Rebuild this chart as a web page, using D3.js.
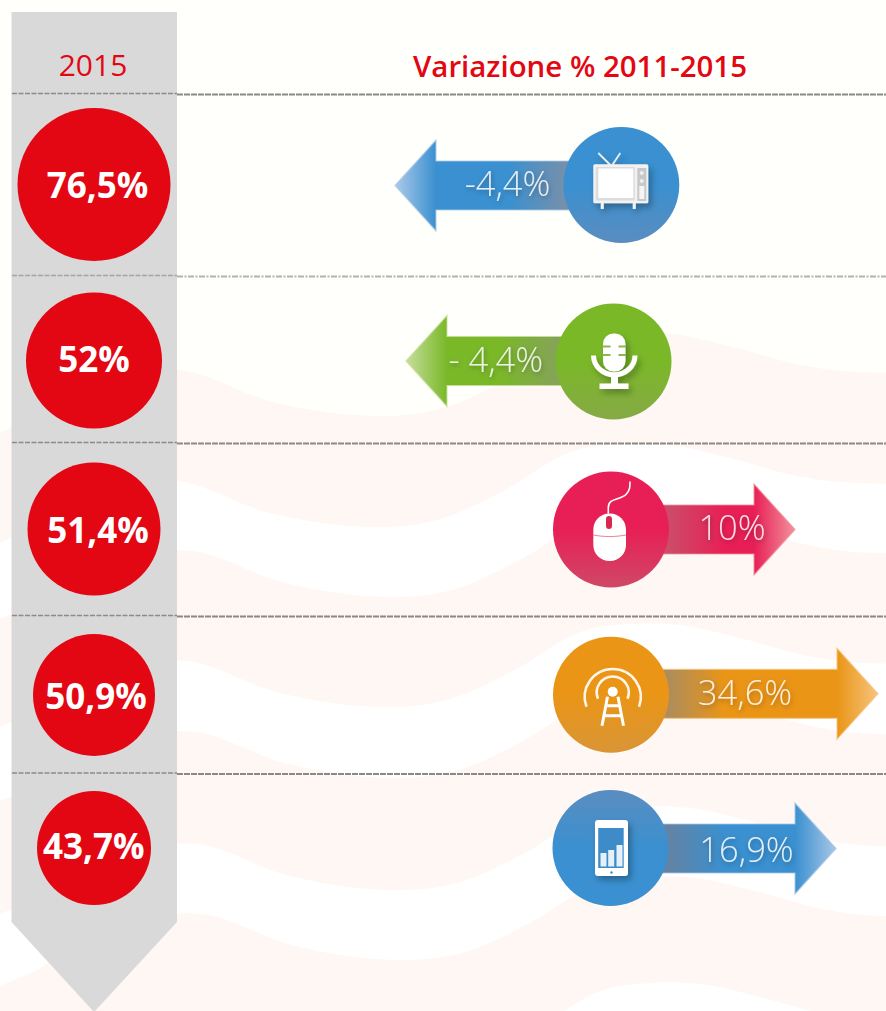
<!DOCTYPE html>
<meta charset="utf-8">
<title>Variazione % 2011-2015</title>
<style>
    html, body { margin: 0; padding: 0; background: #fff; }
    svg { display: block; }
    text { font-family: "Open Sans", sans-serif; }
</style>
<body>
<div id="my_chart"></div>
<script src="https://d3js.org/d3.v7.min.js"></script>
<script>
// data
var media = ["tv", "radio", "web", "wifi", "mobile"];
var share2015 = [76.5, 52, 51.4, 50.9, 43.7];
var change = [-4.4, -4.4, 10, 34.6, 16.9];
var changeLabels = ["-4,4%", "- 4,4%", "10%", "34,6%", "16,9%"];
var yearLabel = "2015";
var changeTitle = "Variazione % 2011-2015";

// layout of the rows
var width = 886, height = 1011;
var ruleY = [94, 276, 443, 616, 773.5];
var rowY = [184.5, 360.5, 529, 695, 848];
var iconX = [621.3, 613.5, 611, 611, 610.5];
var iconY = [185, 361.5, 529.5, 694.7, 848];
var arrowY = [185.5, 361, 529.5, 693.8, 848.5];
var arrowOrigin = [611, 622, 611, 611, 611];
var shareTextX = [97.5, 94, 98, 96, 93.8];
var shareTextDy = [13, 11, 14, 14, 11];
var changeTextX = [507.5, 495.8, 732, 745, 746.5];
var changeTextY = [196, 371.7, 540, 705, 861.7];
var palette = {
    tv: { main: "#3a90d0", tail: "#7a90a8", tip: "#adc9e8", low: "#5a8dc0", flip: false },
    radio: { main: "#7ab828", tail: "#86a25c", tip: "#c6de9c", low: "#86aa46", flip: false },
    web: { main: "#e81f56", tail: "#c9506a", tip: "#f2919c", low: "#cf4866", flip: false },
    wifi: { main: "#ea9516", tail: "#a88c62", tip: "#f6c47e", low: "#d99536", flip: false },
    mobile: { main: "#3a90d0", tail: "#68829f", tip: "#a8c6e6", low: "#5a8dc0", flip: true }
};

// scales: circle size and arrow reach
var rScale = d3.scaleLinear().domain([43.7, 50.9, 51.4, 52, 76.5]).range([57, 61, 66.5, 68, 76.5]);
var reach = d3.scaleLinear().domain([-4.4, 10, 16.9, 34.6]).range([-216, 184, 225, 267]);
var headLength = 41, headHalf = 45.5, shaftHalf = 24.5;

var svg = d3.select("#my_chart").append("svg")
    .attr("width", width)
    .attr("height", height);
var defs = svg.append("defs");

var shadow = defs.append("filter").attr("id", "textShadow")
    .attr("x", "-20%").attr("y", "-30%").attr("width", "140%").attr("height", "160%");
shadow.append("feDropShadow").attr("dx", 1).attr("dy", 2).attr("stdDeviation", 2.5)
    .attr("flood-color", "#000").attr("flood-opacity", 0.35);
var iconShadow = defs.append("filter").attr("id", "iconShadow")
    .attr("x", "-30%").attr("y", "-30%").attr("width", "170%").attr("height", "170%");
iconShadow.append("feDropShadow").attr("dx", 3).attr("dy", 4).attr("stdDeviation", 3)
    .attr("flood-color", "#000").attr("flood-opacity", 0.3);

// background waves: one edge, repeated with a drop and a sideways shift
var waveEdge = [[-60, 455], [12, 426], [45, 405], [100, 380], [177, 370], [270, 402], [370, 416], [437, 409],
    [503, 380], [570, 341], [620, 333], [670, 334], [730, 347], [793, 364], [840, 371], [930, 373]];
var waveBands = [[0, 3, 111, 0], [181, 15, 291, 10], [362, 18, 474, 20], [544, 25, 650, 30]];
var waveLine = d3.line().curve(d3.curveCatmullRom.alpha(0.5));
function edge(dy, dx) { return waveEdge.map(function (p) { return [p[0] + dx, p[1] + dy]; }); }

svg.append("path")
    .attr("d", "M-60,-5L930,-5" + waveLine(edge(0, 3).reverse()).replace("M", "L") + "Z")
    .attr("fill", "#fffffb");
svg.selectAll(".wave").data(waveBands).enter().append("path")
    .attr("class", "wave")
    .attr("fill", "#fef7f3")
    .attr("d", function (b) {
        return waveLine(edge(b[0], b[1])) + waveLine(edge(b[2], b[3]).reverse()).replace("M", "L") + "Z";
    });

// grey strip with its point
svg.append("path")
    .attr("d", d3.line()([[11.5, 12], [177, 12], [177, 922], [94, 1012], [11.5, 922]]) + "Z")
    .attr("fill", "#d9d9da");

// dashed rules
ruleY.forEach(function (y, i) {
    var light = i === 1;
    svg.append("line").attr("x1", 12).attr("x2", 177).attr("y1", y - 0.5).attr("y2", y - 0.5)
        .attr("stroke", light ? "#a5a5a3" : "#8c8b88").attr("stroke-width", 1.6)
        .attr("stroke-dasharray", "5 1.5");
    svg.append("line").attr("x1", 177).attr("x2", width).attr("y1", y + 0.5).attr("y2", y + 0.5)
        .attr("stroke", light ? "#b2b2ae" : "#8a8985").attr("stroke-width", 2)
        .attr("stroke-dasharray", light ? "6 1.5 2 1.5" : "6 1");
});

// headers
svg.append("text").attr("x", 93).attr("y", 76)
    .attr("text-anchor", "middle").attr("font-size", 30).attr("font-weight", 500).attr("fill", "#e30613")
    .text(yearLabel);
svg.append("text").attr("x", 580).attr("y", 76.5)
    .attr("text-anchor", "middle").attr("font-size", 28).attr("font-weight", 600).attr("fill", "#e30613")
    .attr("textLength", 334).attr("lengthAdjust", "spacingAndGlyphs")
    .text(changeTitle);

// red circles
svg.selectAll(".share").data(share2015).enter().append("circle")
    .attr("class", "share")
    .attr("cx", 94)
    .attr("cy", function (d, i) { return rowY[i]; })
    .attr("r", function (d) { return rScale(d); })
    .attr("fill", "#e30613");
svg.selectAll(".shareLabel").data(share2015).enter().append("text")
    .attr("class", "shareLabel")
    .attr("x", function (d, i) { return shareTextX[i]; })
    .attr("y", function (d, i) { return rowY[i] + shareTextDy[i]; })
    .attr("text-anchor", "middle")
    .attr("font-size", 35).attr("font-weight", 700).attr("fill", "#fff")
    .text(function (d) { return String(d).replace(".", ",") + "%"; });

// arrows
function arrowPath(d, i) {
    var dir = d < 0 ? -1 : 1;
    var tip = arrowOrigin[i] + reach(d);
    var base = tip - dir * headLength;
    var y = arrowY[i];
    var tail = iconX[i];
    return d3.line()([[tail, y - shaftHalf], [base, y - shaftHalf], [base, y - headHalf], [tip, y],
        [base, y + headHalf], [base, y + shaftHalf], [tail, y + shaftHalf]]) + "Z";
}
change.forEach(function (d, i) {
    var p = palette[media[i]];
    var dir = d < 0 ? -1 : 1;
    var tip = arrowOrigin[i] + reach(d);
    var base = tip - dir * headLength;
    var start = iconX[i] + dir * 52;
    var g = defs.append("linearGradient").attr("id", "arrow" + i)
        .attr("gradientUnits", "userSpaceOnUse")
        .attr("x1", start).attr("x2", tip).attr("y1", 0).attr("y2", 0);
    var span = tip - start;
    g.append("stop").attr("offset", 0).attr("stop-color", p.tail);
    g.append("stop").attr("offset", Math.min(0.55, 62 / Math.abs(span))).attr("stop-color", p.main);
    g.append("stop").attr("offset", (base - start) / span).attr("stop-color", p.main);
    g.append("stop").attr("offset", 1).attr("stop-color", p.tip);
    var c = defs.append("linearGradient").attr("id", "disc" + i)
        .attr("x1", 0).attr("x2", 0).attr("y1", 0).attr("y2", 1);
    if (p.flip) {
        c.append("stop").attr("offset", 0).attr("stop-color", p.low);
        c.append("stop").attr("offset", 0.5).attr("stop-color", p.main);
    } else {
        c.append("stop").attr("offset", 0.5).attr("stop-color", p.main);
        c.append("stop").attr("offset", 1).attr("stop-color", p.low);
    }
});
svg.selectAll(".arrow").data(change).enter().append("path")
    .attr("class", "arrow")
    .attr("d", arrowPath)
    .attr("fill", function (d, i) { return "url(#arrow" + i + ")"; })
    .attr("stroke", function (d, i) { return palette[media[i]].tip; })
    .attr("stroke-width", 1.2)
    .attr("stroke-opacity", 0.8);
svg.selectAll(".changeLabel").data(changeLabels).enter().append("text")
    .attr("class", "changeLabel")
    .attr("x", function (d, i) { return changeTextX[i]; })
    .attr("y", function (d, i) { return changeTextY[i]; })
    .attr("text-anchor", "middle")
    .attr("font-size", 34.5).attr("font-weight", 300)
    .attr("fill", "#fff").attr("fill-opacity", 0.85)
    .attr("filter", "url(#textShadow)")
    .text(function (d) { return d; });

// discs with icons
var icons = svg.selectAll(".icon").data(media).enter().append("g")
    .attr("class", "icon")
    .attr("transform", function (d, i) { return "translate(" + iconX[i] + "," + iconY[i] + ")"; });
icons.append("circle")
    .attr("r", 58)
    .attr("fill", function (d, i) { return "url(#disc" + i + ")"; });

function drawTv(g) {
    g = g.append("g").attr("filter", "url(#iconShadow)");
    g.append("path").attr("d", "M-11,-20L-23,-32M-9,-20L-1,-32").attr("stroke", "#e8f0f6").attr("stroke-width", 1.8).attr("fill", "none");
    g.append("rect").attr("x", -28).attr("y", -20.7).attr("width", 55).attr("height", 39).attr("rx", 1.5).attr("fill", "#f2f2f2");
    g.append("rect").attr("x", -25.5).attr("y", -18).attr("width", 39).attr("height", 33.5).attr("fill", "#dcdcdc");
    g.append("rect").attr("x", -23).attr("y", -16.5).attr("width", 35).attr("height", 29.5).attr("fill", "#fff");
    g.append("rect").attr("x", 16).attr("y", -17).attr("width", 9).attr("height", 33).attr("fill", "#c8c8c8");
    g.append("rect").attr("x", 18).attr("y", 1).attr("width", 5).attr("height", 13).attr("fill", "#f4f4f4");
    g.selectAll(".knob").data([-12, -4]).enter().append("circle").attr("cx", 20.5)
        .attr("cy", function (d) { return d; }).attr("r", 2).attr("fill", "#eee");
    g.append("path").attr("d", "M-19,18V24M13,18V24").attr("stroke", "#f2f2f2").attr("stroke-width", 3);
}
function drawMic(g) {
    g = g.append("g").attr("filter", "url(#iconShadow)");
    g.append("rect").attr("x", -10.5).attr("y", -28).attr("width", 22.5).attr("height", 38).attr("rx", 10.5).attr("fill", "#fff");
    g.append("path").attr("d", "M-11,-15H-3M5,-15H12.5M-11,-6.5H-3M5,-6.5H12.5").attr("stroke", "#8fb64e").attr("stroke-width", 1.8);
    g.append("path").attr("d", "M-20,-6A20.5,19 0 0 0 21.5,-6").attr("stroke", "#fff").attr("stroke-width", 5).attr("fill", "none");
    g.append("rect").attr("x", -2.5).attr("y", 13).attr("width", 7).attr("height", 10).attr("fill", "#fff");
    g.append("rect").attr("x", -14).attr("y", 22).attr("width", 29).attr("height", 5.5).attr("fill", "#fff");
}
function drawMouse(g) {
    g.append("path").attr("d", "M-2.7,-16V-22C-2.7,-32 9,-29 15,-35C19,-39 19,-43 19,-48")
        .attr("stroke", "#fff").attr("stroke-width", 1.6).attr("fill", "none");
    g.append("rect").attr("x", -17.7).attr("y", -16).attr("width", 32.7).attr("height", 47.5).attr("rx", 16).attr("fill", "#fff");
    g.append("path").attr("d", "M-17.7,5.5C-8,7.5 5,7.5 15,5.5").attr("stroke", "#ec7f98").attr("stroke-width", 1).attr("fill", "none");
    g.append("rect").attr("x", -5).attr("y", -13.5).attr("width", 6).attr("height", 13).attr("rx", 3).attr("fill", "#d8284f");
}
function drawWifi(g) {
    g.append("circle").attr("cx", 1.7).attr("cy", -3).attr("r", 5).attr("fill", "#fff");
    g.append("path").attr("d", "M-13,4A16,16 0 1 1 16.5,4M-24.5,12A28,28 0 1 1 28,12")
        .attr("stroke", "#fff").attr("stroke-opacity", 0.9).attr("stroke-width", 2.6).attr("fill", "none");
    g.append("path").attr("d", "M-3.5,2L-9,31M7,2L12.5,31M-5,11H8.5M-7,21H10.5")
        .attr("stroke", "#fff").attr("stroke-width", 3).attr("fill", "none");
}
function drawMobile(g) {
    g = g.append("g").attr("filter", "url(#iconShadow)");
    g.append("rect").attr("x", -15.5).attr("y", -28).attr("width", 33).attr("height", 56).attr("rx", 3).attr("fill", "#fff");
    g.append("rect").attr("x", -12.3).attr("y", -20).attr("width", 25.5).attr("height", 40).attr("fill", "#3d8bc9");
    g.selectAll(".bar").data([[-10, 5, 6], [-2.3, 2, 6], [6, -3, 6]]).enter().append("rect")
        .attr("x", function (d) { return d[0]; })
        .attr("y", function (d) { return d[1]; })
        .attr("width", function (d) { return d[2]; })
        .attr("height", function (d) { return 18.5 - d[1]; })
        .attr("fill", "#e6f0f8");
    g.append("circle").attr("cx", 1).attr("cy", 24.5).attr("r", 1.2).attr("fill", "#3d8bc9");
}
var drawers = { tv: drawTv, radio: drawMic, web: drawMouse, wifi: drawWifi, mobile: drawMobile };
icons.each(function (d) { drawers[d](d3.select(this)); });
</script>
</body>
